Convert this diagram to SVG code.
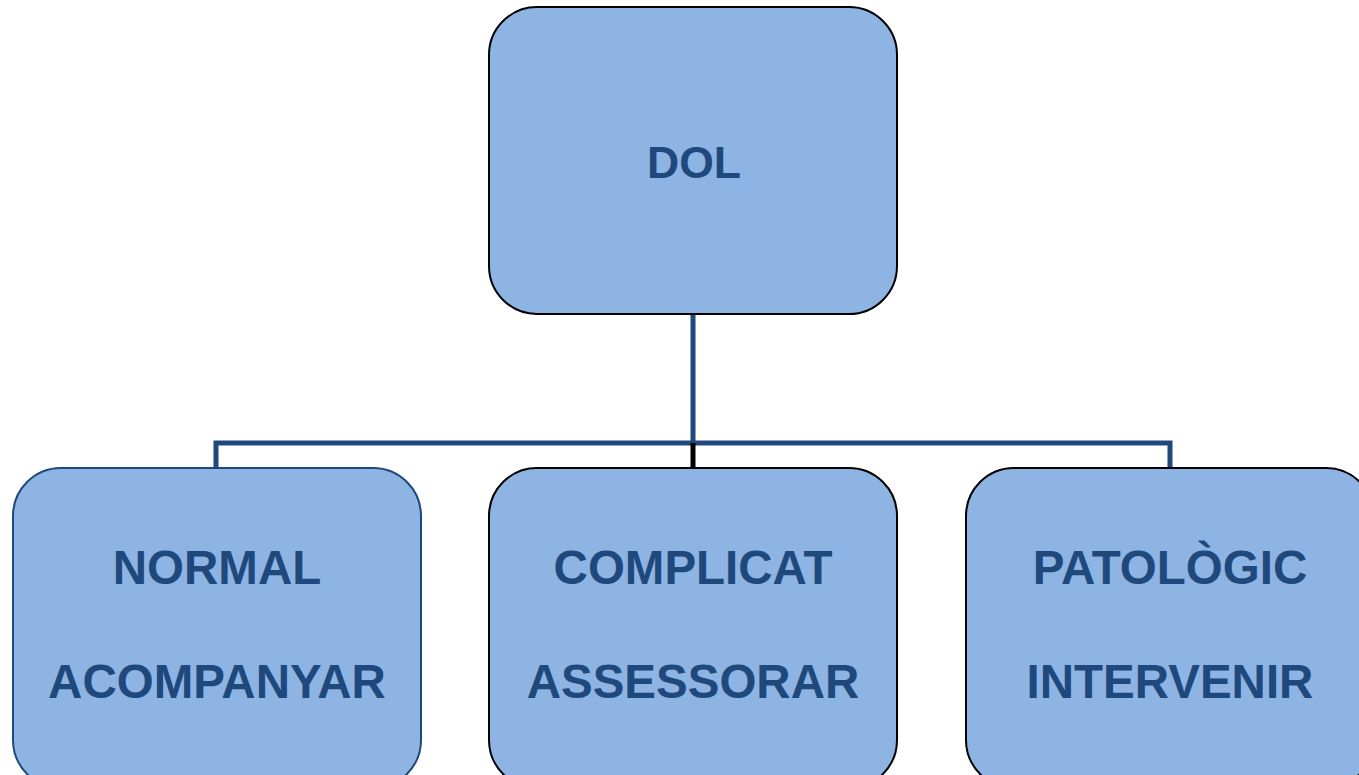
<svg xmlns="http://www.w3.org/2000/svg" width="1359" height="775" viewBox="0 0 1359 775">
<style>
.box{fill:#8EB4E3;stroke:#000;stroke-width:2}
.boxb{fill:#8EB4E3;stroke:#1F497D;stroke-width:2}
.t{font-family:"Liberation Sans",Arial,sans-serif;font-weight:bold;fill:#1F497D;text-anchor:middle}
.c{fill:none;stroke:#1F497D;stroke-width:5}
</style>
<rect width="1359" height="775" fill="#fff"/>
<g id="connectors">
<path class="c" d="M693 314V443M216 468V443H1170V468"/>
<path d="M693 443V468" stroke="#000" stroke-width="5"/>
</g>
<g id="dol">
<rect class="box" x="489" y="7" width="408" height="307" rx="48"/>
<text class="t" x="694" y="178" font-size="44.5">DOL</text>
</g>
<g id="normal">
<rect class="boxb" x="13" y="468" width="408" height="320" rx="48"/>
<text class="t" x="217" y="584" font-size="47.5">NORMAL</text>
<text class="t" x="217" y="698" font-size="47.5">ACOMPANYAR</text>
</g>
<g id="complicat">
<rect class="box" x="489" y="468" width="408" height="320" rx="48"/>
<text class="t" x="693" y="584" font-size="47.5">COMPLICAT</text>
<text class="t" x="693" y="698" font-size="47.5">ASSESSORAR</text>
</g>
<g id="patologic">
<rect class="box" x="966" y="468" width="408" height="320" rx="48"/>
<text class="t" x="1170" y="584" font-size="47.5">PATOLÒGIC</text>
<text class="t" x="1170" y="698" font-size="47.5">INTERVENIR</text>
</g>
</svg>
